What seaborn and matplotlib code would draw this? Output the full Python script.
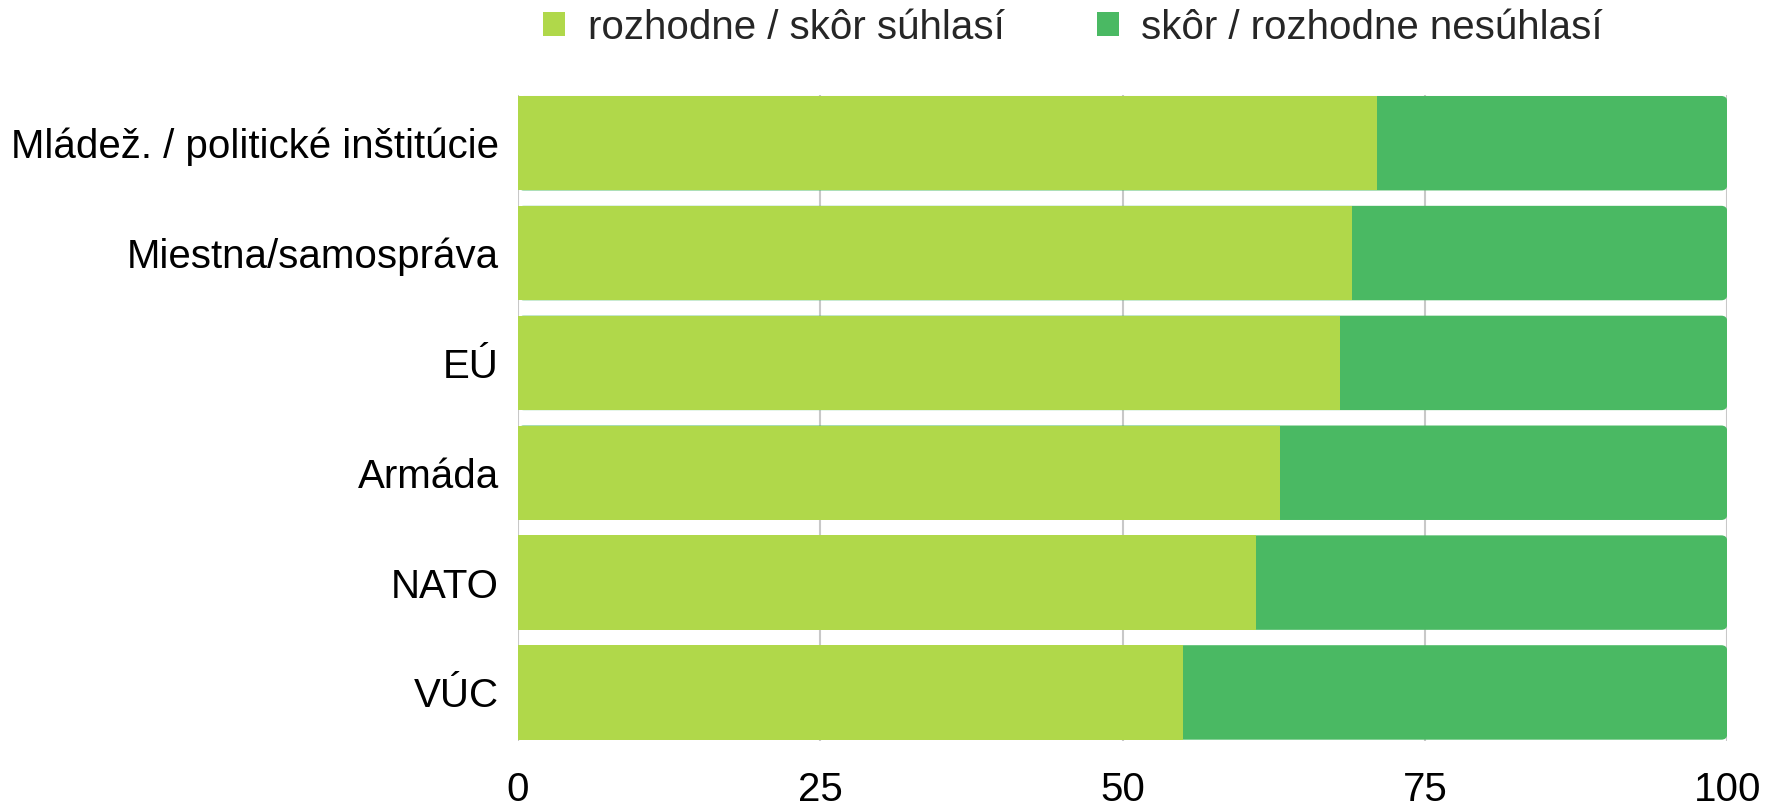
import pandas as pd
import matplotlib
matplotlib.use("Agg")
import matplotlib.pyplot as plt
import seaborn as sns
from matplotlib.patches import FancyBboxPatch, Patch

# data
categories = ["Mládež. / politické inštitúcie", "Miestna/samospráva", "EÚ",
              "Armáda", "NATO", "VÚC"]
agree = [71, 69, 68, 63, 61, 55]
disagree = [100 - a for a in agree]
series_names = ["rozhodne / skôr súhlasí", "skôr / rozhodne nesúhlasí"]
ticks = [0, 25, 50, 75, 100]

light = "#B0D84A"
dark = "#4AB963"

sns.set_theme(style="white")
plt.rcParams["font.family"] = ["Liberation Sans", "DejaVu Sans"]

df = pd.DataFrame({"cat": categories, "agree": agree, "disagree": disagree})
df["total"] = df["agree"] + df["disagree"]

fig = plt.figure(figsize=(17.68, 8.11), dpi=100)
ax = fig.add_axes([0.2928, 0.0866, 0.977 - 0.2928, 0.883 - 0.0866])

# stacked bars: full length in dark green, agree part on top in light green
sns.barplot(data=df, y="cat", x="total", color=dark, orient="h", width=0.86,
            saturation=1, linewidth=0, ax=ax, zorder=2)
n_dark = len(ax.patches)
sns.barplot(data=df, y="cat", x="agree", color=light, orient="h", width=0.86,
            saturation=1, linewidth=0, ax=ax, zorder=3)

ax.set_xlim(0, 100)
ax.set_ylim(5.44, -0.44)

# round the right corners of the dark bars
px_x = 100 / 1210.0
px_y = 5.88 / 646.0
for p in list(ax.patches[:n_dark]):
    x, y, w, h = p.get_x(), p.get_y(), p.get_width(), p.get_height()
    rb = FancyBboxPatch((x, y), w, h,
                        boxstyle="round,pad=0,rounding_size=%f" % (6 * px_x),
                        mutation_aspect=px_y / px_x,
                        facecolor=dark, edgecolor="none", zorder=2)
    p.remove()
    ax.add_patch(rb)

ax.set_xticks(ticks)
ax.set_xticklabels([str(t) for t in ticks])
ax.grid(axis="x", color="#C8C8C8", linewidth=1.5, zorder=0)
ax.grid(axis="y", visible=False)
ax.set_axisbelow(True)
for s in ax.spines.values():
    s.set_visible(False)
ax.set_xlabel("")
ax.set_ylabel("")
ax.tick_params(axis="x", length=0, pad=22, labelsize=29, colors="black")
ax.tick_params(axis="y", length=0, pad=13.5, labelsize=29, colors="black")

handles = [Patch(facecolor=light, edgecolor="none"),
           Patch(facecolor=dark, edgecolor="none")]
fig.legend(handles, series_names, loc="center", bbox_to_anchor=(0.607, 0.966),
           ncol=2, frameon=False, fontsize=29, handlelength=0.55,
           handleheight=0.55, handletextpad=0.55, columnspacing=2.3)

fig.savefig("out.png", dpi=100)
